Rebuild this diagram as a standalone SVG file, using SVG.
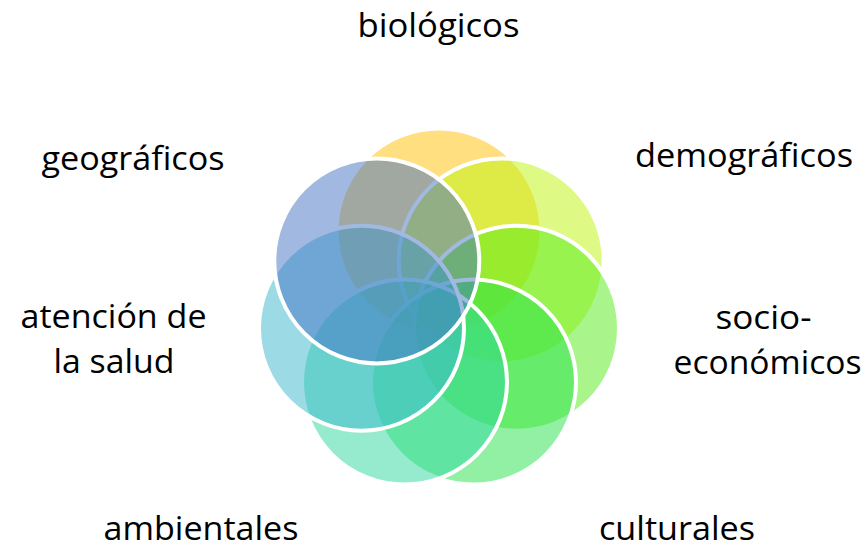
<svg xmlns="http://www.w3.org/2000/svg" width="866" height="550" viewBox="0 0 866 550">
<style>
.c{fill-opacity:0.5;stroke:#fff;stroke-width:4}
.t{font-family:"Open Sans","Liberation Sans",sans-serif;font-size:33px;fill:#000;text-anchor:middle}
</style>
<rect width="866" height="550" fill="#fff"/>
<g id="biologicos">
<circle class="c" cx="439" cy="231" r="102.5" fill="#FFC000"/>
<text class="t" x="438.5" y="37" textLength="162" lengthAdjust="spacingAndGlyphs">biológicos</text>
</g>
<g id="demograficos">
<circle class="c" cx="501.2" cy="260.9" r="102.5" fill="#BEF50C"/>
<text class="t" x="744" y="167" textLength="218" lengthAdjust="spacingAndGlyphs">demográficos</text>
</g>
<g id="socioeconomicos">
<circle class="c" cx="516.5" cy="328.2" r="102.5" fill="#54EB18"/>
<text class="t" x="763.5" y="329" textLength="96" lengthAdjust="spacingAndGlyphs">socio-</text>
<text class="t" x="767.5" y="374" textLength="188" lengthAdjust="spacingAndGlyphs">económicos</text>
</g>
<g id="culturales">
<circle class="c" cx="473.5" cy="382.1" r="102.5" fill="#23E149"/>
<text class="t" x="677" y="540" textLength="156" lengthAdjust="spacingAndGlyphs">culturales</text>
</g>
<g id="ambientales">
<circle class="c" cx="404.5" cy="382.1" r="102.5" fill="#2ED7A0"/>
<text class="t" x="201" y="540" textLength="195" lengthAdjust="spacingAndGlyphs">ambientales</text>
</g>
<g id="atencion">
<circle class="c" cx="361.5" cy="328.2" r="102.5" fill="#3AB8CE"/>
<text class="t" x="113.5" y="328" textLength="186" lengthAdjust="spacingAndGlyphs">atención de</text>
<text class="t" x="114" y="373" textLength="121" lengthAdjust="spacingAndGlyphs">la salud</text>
</g>
<g id="geograficos">
<circle class="c" cx="376.8" cy="260.9" r="102.5" fill="#4472C4"/>
<text class="t" x="133" y="170" textLength="183" lengthAdjust="spacingAndGlyphs">geográficos</text>
</g>
</svg>
